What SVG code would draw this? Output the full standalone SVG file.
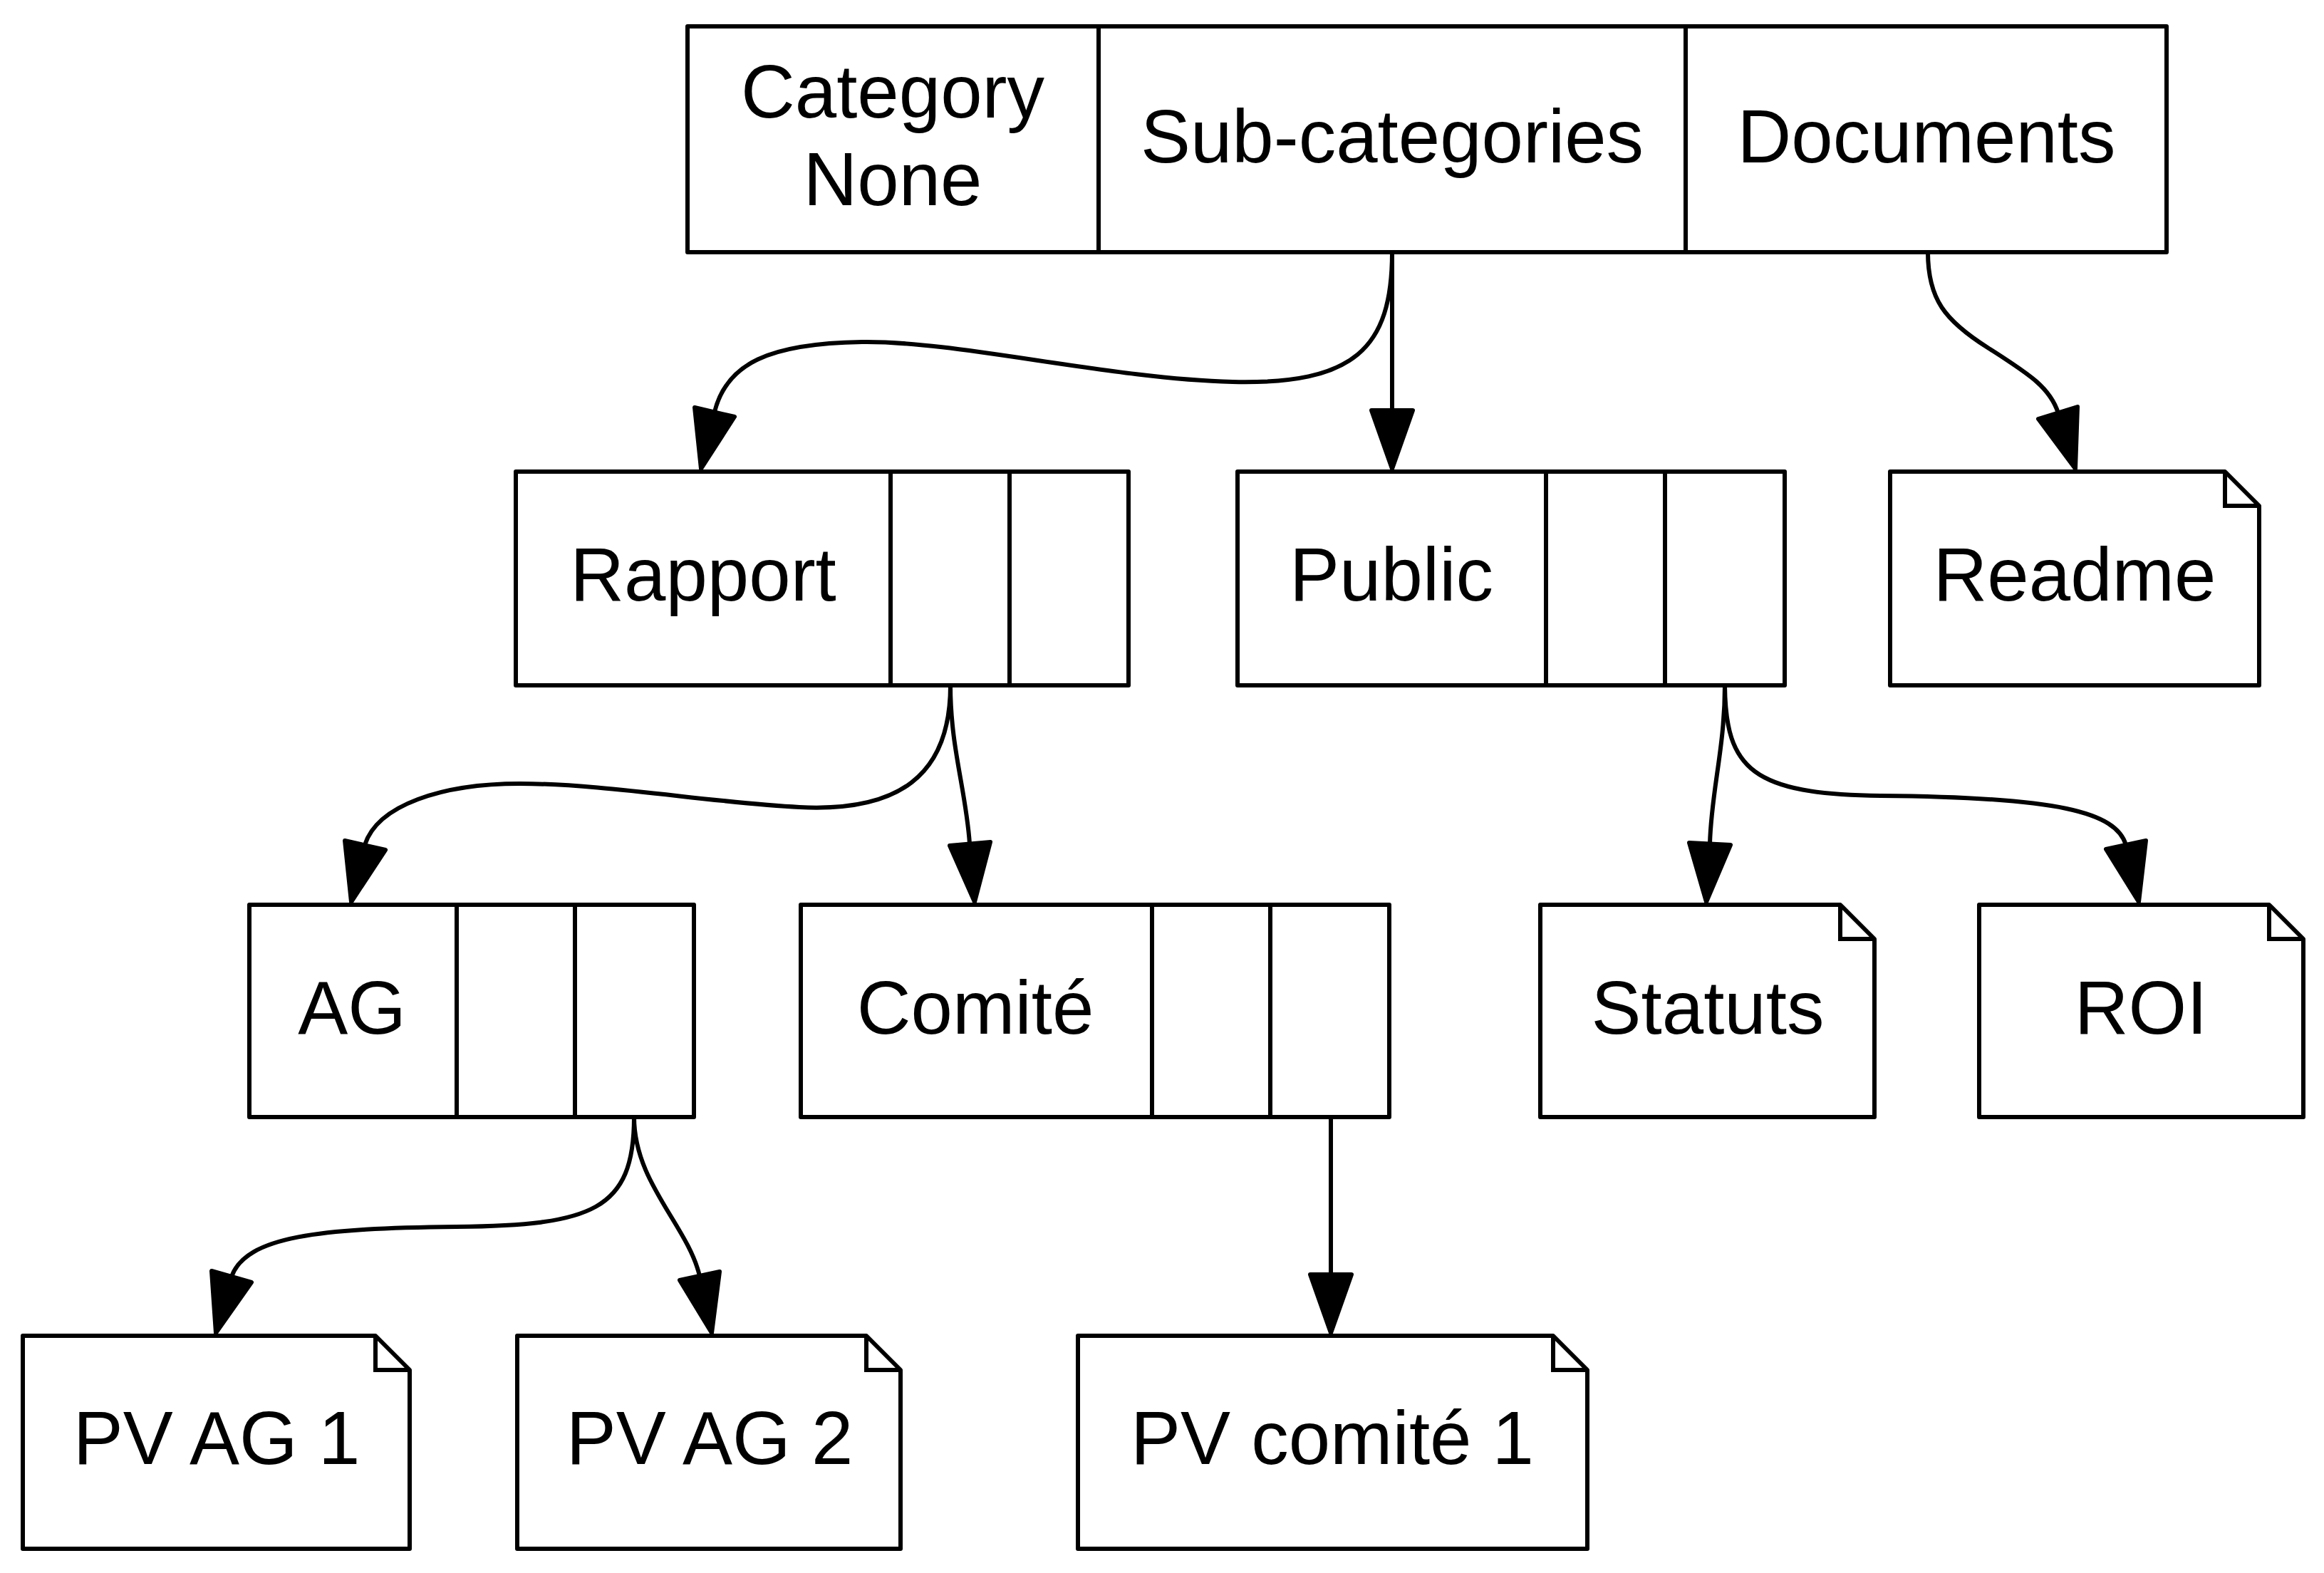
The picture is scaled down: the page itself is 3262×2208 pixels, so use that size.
<svg xmlns="http://www.w3.org/2000/svg" width="3262" height="2208" viewBox="0 0 3262 2208">
<style>
.box{fill:#fff;stroke:#000;stroke-width:6;stroke-linejoin:round}
.div{stroke:#000;stroke-width:6;fill:none}
.edge{fill:none;stroke:#000;stroke-width:6}
.head{fill:#000;stroke:#000;stroke-width:6;stroke-linejoin:round}
text{font-family:"Liberation Sans",Arial,sans-serif;font-size:105px;fill:#000;text-anchor:middle}
</style>
<rect width="3262" height="2208" fill="#fff"/>
<g id="connectors">
<path class="edge" d="M1954,354 C1954,490 1900,540 1730,536 C1560,532 1340,478 1210,480 C1080,482 1020,510 1003,578"/>
<polygon class="head" points="984,658 1031,585 975,572"/>
<path class="edge" d="M1954,354 L1954,576"/>
<polygon class="head" points="1954,658 1983,576 1925,576"/>
<path class="edge" d="M2706,354 C2706,420 2730,450 2790,488 C2850,526 2878,545 2889,580"/>
<polygon class="head" points="2913,658 2916,571 2861,588"/>
<path class="edge" d="M1334,962 C1334,1090 1260,1140 1122,1133 C1000,1127 850,1100 730,1100 C620,1100 530,1130 512,1186"/>
<polygon class="head" points="493,1266 541,1193 484,1180"/>
<path class="edge" d="M1334,962 C1334,1050 1356,1110 1361,1184"/>
<polygon class="head" points="1368,1266 1390,1182 1333,1187"/>
<path class="edge" d="M2421,962 C2421,1050 2402,1110 2400,1184"/>
<polygon class="head" points="2395,1266 2429,1186 2371,1183"/>
<path class="edge" d="M2421,962 C2422,1080 2460,1115 2640,1117 C2890,1119 2970,1140 2984,1186"/>
<polygon class="head" points="3002,1266 3012,1180 2956,1192"/>
<path class="edge" d="M890,1568 C890,1700 830,1720 640,1722 C450,1724 345,1735 325,1792"/>
<polygon class="head" points="303,1871 353,1800 297,1784"/>
<path class="edge" d="M890,1568 C890,1660 965,1720 982,1791"/>
<polygon class="head" points="999,1871 1010,1785 954,1797"/>
<path class="edge" d="M1868,1568 L1868,1789"/>
<polygon class="head" points="1868,1871 1897,1789 1839,1789"/>
</g>
<g id="node-root">
<rect class="box" x="965" y="37" width="2076" height="317"/>
<line class="div" x1="1542" y1="37" x2="1542" y2="354"/>
<line class="div" x1="2366" y1="37" x2="2366" y2="354"/>
<text x="1253" y="165">Category</text>
<text x="1253" y="288">None</text>
<text x="1954" y="228">Sub-categories</text>
<text x="2704" y="228">Documents</text>
</g>
<g id="node-rapport">
<rect class="box" x="724" y="662" width="860" height="300"/>
<line class="div" x1="1250" y1="662" x2="1250" y2="962"/>
<line class="div" x1="1417" y1="662" x2="1417" y2="962"/>
<text x="987" y="843">Rapport</text>
</g>
<g id="node-public">
<rect class="box" x="1737" y="662" width="768" height="300"/>
<line class="div" x1="2170" y1="662" x2="2170" y2="962"/>
<line class="div" x1="2337" y1="662" x2="2337" y2="962"/>
<text x="1953" y="843">Public</text>
</g>
<g id="node-readme">
<path class="box" d="M2653,662 L3123,662 L3171,710 L3171,962 L2653,962 Z"/>
<path class="div" d="M3123,662 L3123,710 L3171,710"/>
<text x="2912" y="843">Readme</text>
</g>
<g id="node-ag">
<rect class="box" x="350" y="1270" width="624" height="298"/>
<line class="div" x1="641" y1="1270" x2="641" y2="1568"/>
<line class="div" x1="807" y1="1270" x2="807" y2="1568"/>
<text x="494" y="1451">AG</text>
</g>
<g id="node-comite">
<rect class="box" x="1124" y="1270" width="826" height="298"/>
<line class="div" x1="1617" y1="1270" x2="1617" y2="1568"/>
<line class="div" x1="1783" y1="1270" x2="1783" y2="1568"/>
<text x="1369" y="1451">Comité</text>
</g>
<g id="node-statuts">
<path class="box" d="M2162,1270 L2583,1270 L2631,1318 L2631,1568 L2162,1568 Z"/>
<path class="div" d="M2583,1270 L2583,1318 L2631,1318"/>
<text x="2397" y="1451">Statuts</text>
</g>
<g id="node-roi">
<path class="box" d="M2778,1270 L3185,1270 L3233,1318 L3233,1568 L2778,1568 Z"/>
<path class="div" d="M3185,1270 L3185,1318 L3233,1318"/>
<text x="3005" y="1451">ROI</text>
</g>
<g id="node-pvag1">
<path class="box" d="M32,1875 L527,1875 L575,1923 L575,2174 L32,2174 Z"/>
<path class="div" d="M527,1875 L527,1923 L575,1923"/>
<text x="304" y="2055">PV AG 1</text>
</g>
<g id="node-pvag2">
<path class="box" d="M726,1875 L1216,1875 L1264,1923 L1264,2174 L726,2174 Z"/>
<path class="div" d="M1216,1875 L1216,1923 L1264,1923"/>
<text x="996" y="2055">PV AG 2</text>
</g>
<g id="node-pvcomite1">
<path class="box" d="M1513,1875 L2180,1875 L2228,1923 L2228,2174 L1513,2174 Z"/>
<path class="div" d="M2180,1875 L2180,1923 L2228,1923"/>
<text x="1870" y="2055">PV comité 1</text>
</g>
</svg>
